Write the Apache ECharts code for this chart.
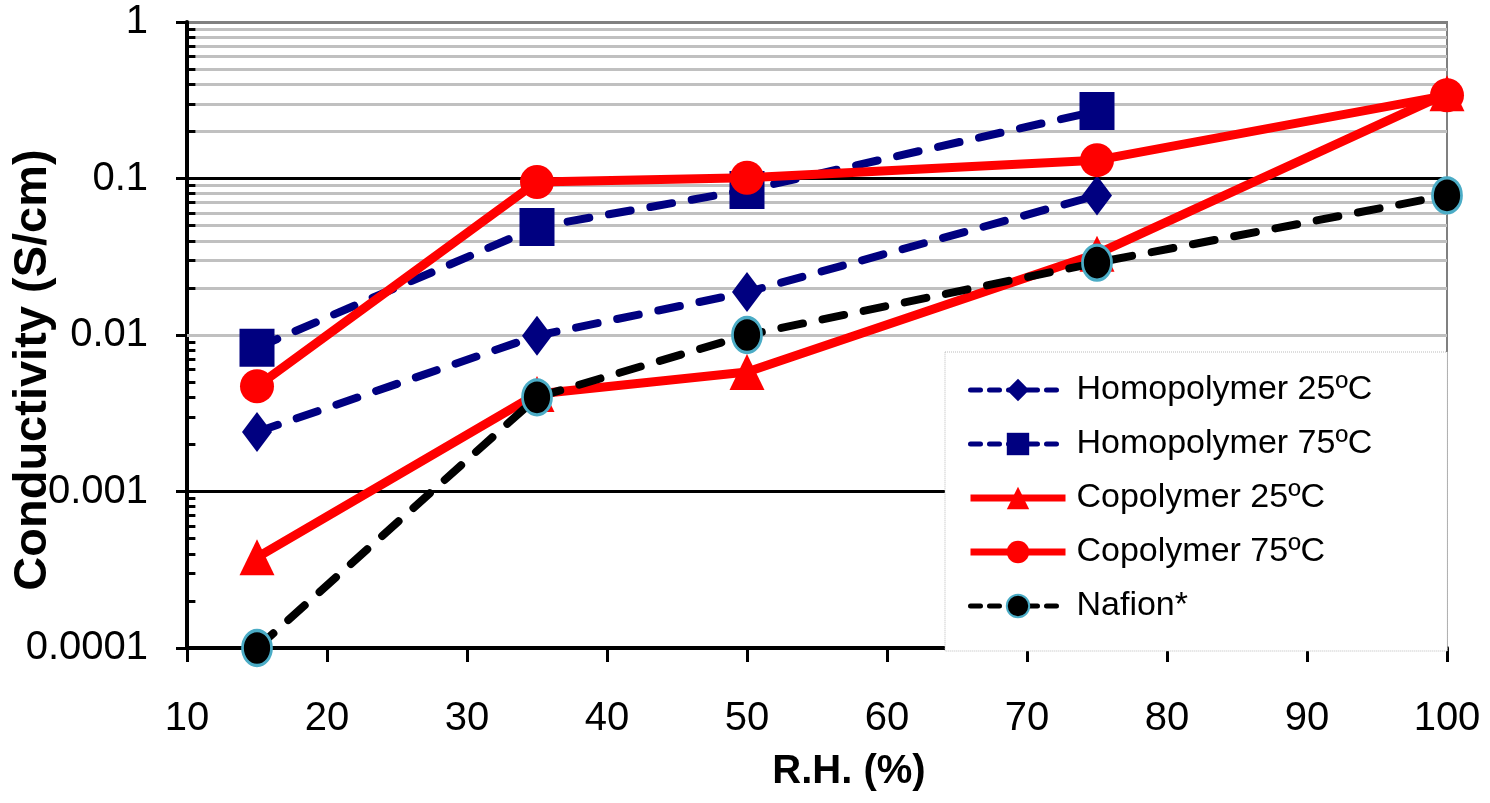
<!DOCTYPE html>
<html>
<head>
<meta charset="utf-8">
<script src="https://cdn.jsdelivr.net/npm/echarts@6/dist/echarts.min.js"></script>
<style>
html,body{margin:0;padding:0;background:#fff;}
#chart{width:1490px;height:803px;}
</style>
</head>
<body>
<div id="chart"></div>
<script>
// ---- data ----
var rh = [15, 35, 50, 75, 100];
var homo25 = [0.0024, 0.0099, 0.0188, 0.078];
var homo75 = [0.0083, 0.049, 0.0845, 0.27];
var co25 = [0.00038, 0.0042, 0.0058, 0.033, 0.35];
var co75 = [0.0047, 0.095, 0.101, 0.131, 0.34];
var nafion = [0.0001, 0.004, 0.01, 0.029, 0.078];
var seriesNames = ['Homopolymer 25ºC', 'Homopolymer 75ºC', 'Copolymer 25ºC', 'Copolymer 75ºC', 'Nafion*'];
var yTickLabels = ['0.0001', '0.001', '0.01', '0.1', '1'];
var xTickLabels = ['10', '20', '30', '40', '50', '60', '70', '80', '90', '100'];
var minorMultipliers = [2, 3, 4, 5, 6, 7, 8, 9];
var decades = [0.0001, 0.001, 0.01, 0.1];

function pairs(ys) {
  return ys.map(function (v, i) { return [rh[i], v]; });
}

var NAVY = '#000080', RED = '#FF0000', BLACK = '#000000', CYAN = '#4BACC6';
var SANS = '"Liberation Sans", Arial, sans-serif';

// minor grid lines and minor ticks (values on the log scale)
var minorLines = [];
var minorTicks = [];
decades.forEach(function (d) {
  minorMultipliers.forEach(function (m) {
    var v = +(d * m).toPrecision(3);
    minorLines.push({ yAxis: v, lineStyle: { color: '#C0C0C0', width: 3, type: 'solid' } });
    minorTicks.push([
      { coord: [10, v], lineStyle: { color: '#000', width: 3, type: 'solid' } },
      { coord: [10.6, v] }
    ]);
  });
});

var dashed = [22, 20];

var option = {
  backgroundColor: '#ffffff',
  animation: false,
  grid: {
    left: 187, right: 43, top: 22, bottom: 155,
    containLabel: false, outerBoundsMode: 'none',
    show: true, borderColor: '#808080', borderWidth: 2, backgroundColor: 'transparent'
  },
  legend: {
    orient: 'vertical',
    left: 945, top: 352,
    padding: [21, 75, 28, 22],
    itemWidth: 95, itemHeight: 28, itemGap: 20,
    backgroundColor: '#ffffff',
    borderColor: '#BBBBBB', borderWidth: 1, borderType: 'dotted',
    textStyle: { fontSize: 34, color: '#000', fontFamily: SANS, padding: [0, 0, 0, 6] },
    data: [
      { name: seriesNames[0], lineStyle: { width: 5, type: [10, 9], cap: 'round' } },
      { name: seriesNames[1], lineStyle: { width: 5, type: [10, 9], cap: 'round' } },
      { name: seriesNames[2], lineStyle: { width: 7 } },
      { name: seriesNames[3], lineStyle: { width: 7 } },
      { name: seriesNames[4], lineStyle: { width: 5, type: [10, 9], cap: 'round' } }
    ]
  },
  xAxis: {
    type: 'value', min: 10, max: 100, interval: 10,
    name: 'R.H. (%)', nameLocation: 'middle', nameGap: 104, nameMoveOverlap: false,
    nameTextStyle: { fontSize: 40, fontWeight: 'bold', color: '#000', fontFamily: SANS, padding: [0, 0, 0, 64] },
    axisLine: { show: true, onZero: false, lineStyle: { color: '#000', width: 4 } },
    axisTick: { show: true, inside: false, length: 14, lineStyle: { color: '#000', width: 3 } },
    axisLabel: {
      fontSize: 40, color: '#000', fontFamily: SANS, margin: 51,
      formatter: function (v) { return xTickLabels[Math.round((v - 10) / 10)]; }
    },
    splitLine: { show: false }
  },
  yAxis: {
    type: 'log', logBase: 10, min: 0.0001, max: 1,
    name: 'Conductivity (S/cm)', nameLocation: 'middle', nameGap: 130, nameRotate: 90, nameMoveOverlap: false,
    nameTextStyle: { fontSize: 47, fontWeight: 'bold', color: '#000', fontFamily: SANS, padding: [0, 70, 0, 0] },
    axisLine: { show: true, lineStyle: { color: '#000', width: 4 } },
    axisTick: { show: true, inside: false, length: 11, lineStyle: { color: '#000', width: 3 } },
    axisLabel: {
      fontSize: 40, color: '#000', fontFamily: SANS, margin: 39,
      formatter: function (v) { return yTickLabels[Math.round(Math.log10(v)) + 4]; }
    },
    splitLine: { show: true, lineStyle: { color: ['#000', '#000', '#000', '#000', '#808080'], width: 3 } }
  },
  series: [
    {
      name: seriesNames[0], type: 'line', data: pairs(homo25),
      symbol: 'diamond', symbolSize: [30, 40],
      lineStyle: { color: NAVY, width: 8, type: dashed, cap: 'round' },
      itemStyle: { color: NAVY },
      z: 2,
      markLine: {
        silent: true, symbol: 'none', z: 1, animation: false,
        label: { show: false },
        emphasis: { disabled: true },
        data: minorLines.concat(minorTicks)
      }
    },
    {
      name: seriesNames[1], type: 'line', data: pairs(homo75),
      symbol: 'rect', symbolSize: [35, 38],
      lineStyle: { color: NAVY, width: 8, type: dashed, cap: 'round' },
      itemStyle: { color: NAVY }, z: 3
    },
    {
      name: seriesNames[2], type: 'line', data: pairs(co25),
      symbol: 'triangle', symbolSize: [35, 36],
      lineStyle: { color: RED, width: 9 },
      itemStyle: { color: RED }, z: 4
    },
    {
      name: seriesNames[3], type: 'line', data: pairs(co75),
      symbol: 'circle', symbolSize: 34,
      lineStyle: { color: RED, width: 9 },
      itemStyle: { color: RED }, z: 5
    },
    {
      name: seriesNames[4], type: 'line', data: pairs(nafion),
      symbol: 'circle', symbolSize: [29, 35],
      lineStyle: { color: BLACK, width: 8, type: dashed, cap: 'round' },
      itemStyle: { color: BLACK, borderColor: CYAN, borderWidth: 3 }, z: 6
    }
  ]
};

var chart = echarts.init(document.getElementById('chart'), null, { renderer: 'canvas' });
chart.setOption(option);
</script>
</body>
</html>
